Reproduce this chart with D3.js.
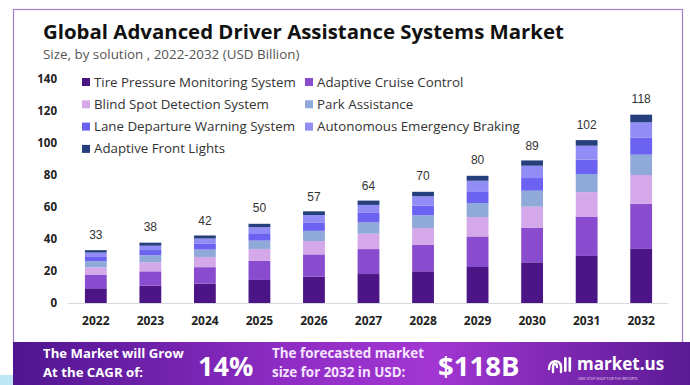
<!DOCTYPE html>
<html>
<head>
<meta charset="utf-8">
<script src="https://cdn.jsdelivr.net/npm/d3@7"></script>
<style>
  body { margin: 0; background: #fff; }
  svg { display: block; font-family: "Open Sans", "Noto Sans", sans-serif; }
</style>
</head>
<body>
<div id="chart"></div>
<script>
// data (USD Billion)
var years = ["2022", "2023", "2024", "2025", "2026", "2027", "2028", "2029", "2030", "2031", "2032"];
var totals = [33, 38, 42, 50, 57, 64, 70, 80, 89, 102, 118];
var series = ["Tire Pressure Monitoring System", "Adaptive Cruise Control", "Blind Spot Detection System",
  "Park Assistance", "Lane Departure Warning System", "Autonomous Emergency Braking", "Adaptive Front Lights"];
var tpms = [9.2, 10.8, 12.1, 14.4, 16.4, 18.1, 19.8, 22.5, 25.4, 29.4, 33.8];
var acc  = [8.3, 9.0, 10.3, 11.9, 14.0, 15.6, 16.7, 19.1, 21.7, 24.6, 28.3];
var bsd  = [4.8, 5.6, 6.4, 7.5, 8.3, 9.6, 10.4, 12.1, 13.1, 15.3, 17.9];
var park = [3.8, 4.4, 4.6, 5.2, 6.4, 7.1, 7.9, 8.8, 10.0, 11.3, 12.7];
var lane = [3.1, 3.3, 3.6, 4.6, 5.3, 5.9, 6.1, 7.3, 7.9, 9.0, 10.8];
var aeb  = [2.3, 2.7, 3.3, 3.8, 4.6, 5.0, 5.8, 6.6, 7.7, 8.7, 9.4];
var afl  = [1.5, 1.9, 1.9, 2.1, 2.3, 2.7, 2.8, 3.1, 3.3, 3.5, 4.8];
var yTicks = [0, 20, 40, 60, 80, 100, 120, 140];
var colors = ["#4b1585", "#8a4ccf", "#d5a8ea", "#8fa9d9", "#6c62f2", "#918cf6", "#253f7c"];

var width = 690, height = 385;
var svg = d3.select("#chart").append("svg")
    .attr("width", width)
    .attr("height", height);

// card
svg.append("rect")
    .attr("x", 13.5).attr("y", 9.5)
    .attr("width", 669).attr("height", 340)
    .attr("fill", "#fff")
    .attr("stroke", "#a57ccb")
    .attr("stroke-width", 1.2);

// title
svg.append("text")
    .attr("x", 43).attr("y", 38.5)
    .attr("font-size", 20.4).attr("font-weight", 700)
    .attr("fill", "#111")
    .text("Global Advanced Driver Assistance Systems Market");
svg.append("text")
    .attr("x", 43).attr("y", 59)
    .attr("font-size", 13.4)
    .attr("fill", "#555")
    .text("Size, by solution , 2022-2032 (USD Billion)");

// scales
var x = d3.scaleBand()
    .domain(years)
    .range([74, 663])
    .paddingInner(0.6)
    .paddingOuter(0.2);

var y = d3.scaleLinear()
    .domain([0, 140])
    .range([303, 79]);

// stack the series
var table = years.map(function(yr, i) {
  return {year: yr, s0: tpms[i], s1: acc[i], s2: bsd[i], s3: park[i], s4: lane[i], s5: aeb[i], s6: afl[i]};
});
var keys = ["s0", "s1", "s2", "s3", "s4", "s5", "s6"];
var stacked = d3.stack().keys(keys)(table);

var chartGroup = svg.append("g");

chartGroup.selectAll("g.layer")
    .data(stacked)
    .enter()
    .append("g")
    .attr("class", "layer")
    .attr("fill", (d, i) => colors[i])
    .selectAll("rect")
    .data(d => d)
    .enter()
    .append("rect")
    .attr("x", d => x(d.data.year))
    .attr("y", d => y(d[1]))
    .attr("width", x.bandwidth())
    .attr("height", d => y(d[0]) - y(d[1]));

// baseline
chartGroup.append("line")
    .attr("x1", 68).attr("x2", 668)
    .attr("y1", y(0) + 0.5).attr("y2", y(0) + 0.5)
    .attr("stroke", "#d8d8e0")
    .attr("stroke-width", 1);

// y axis labels (no line)
var leftAxis = d3.axisLeft(y).tickValues(yTicks).tickSize(0).tickPadding(0);
var yAxisG = chartGroup.append("g")
    .attr("transform", "translate(57,0)")
    .call(leftAxis);
yAxisG.select(".domain").remove();
yAxisG.selectAll("text")
    .attr("font-family", "\"Open Sans\", sans-serif")
    .attr("font-size", 11.5)
    .attr("font-weight", 700)
    .attr("fill", "#222");

// x axis labels
var bottomAxis = d3.axisBottom(x).tickSize(0).tickPadding(13);
var xAxisG = chartGroup.append("g")
    .attr("transform", `translate(0, ${y(0)})`)
    .call(bottomAxis);
xAxisG.select(".domain").remove();
xAxisG.selectAll("text")
    .attr("font-family", "\"Open Sans\", sans-serif")
    .attr("font-size", 12)
    .attr("font-weight", 700)
    .attr("fill", "#222");

// totals above bars
chartGroup.selectAll("text.total")
    .data(totals)
    .enter()
    .append("text")
    .attr("class", "total")
    .attr("x", (d, i) => x(years[i]) + x.bandwidth() / 2)
    .attr("y", d => y(d) - 11)
    .attr("text-anchor", "middle")
    .attr("font-family", "Arial, \"Liberation Sans\", sans-serif")
    .attr("font-size", 12)
    .attr("fill", "#333")
    .text(d => d);

// legend
var legend = svg.append("g");
series.forEach(function(name, i) {
  var col = i % 2, row = Math.floor(i / 2);
  var lx = col === 0 ? 82 : 305;
  var ly = 82 + row * 22.3;
  legend.append("rect")
      .attr("x", lx).attr("y", ly - 4)
      .attr("width", 8).attr("height", 8)
      .attr("fill", colors[i]);
  legend.append("text")
      .attr("x", lx + 12).attr("y", ly + 4.5)
      .attr("font-size", 13.3)
      .attr("fill", "#333")
      .text(name);
});

// bottom banner
var defs = svg.append("defs");
var grad = defs.append("linearGradient").attr("id", "bannerGrad")
    .attr("x1", "0%").attr("x2", "100%").attr("y1", "0%").attr("y2", "0%");
grad.append("stop").attr("offset", "0%").attr("stop-color", "#4f1590");
grad.append("stop").attr("offset", "40%").attr("stop-color", "#8e2cc4");
grad.append("stop").attr("offset", "62%").attr("stop-color", "#a236d2");
grad.append("stop").attr("offset", "100%").attr("stop-color", "#5a1a94");

svg.append("rect")
    .attr("x", 0).attr("y", 375)
    .attr("width", 14).attr("height", 10)
    .attr("fill", "#bfe6f5");
svg.append("rect")
    .attr("x", 13).attr("y", 342)
    .attr("width", 677).attr("height", 43)
    .attr("fill", "url(#bannerGrad)");

var banner = svg.append("g").attr("fill", "#fff").attr("font-weight", 700);
banner.append("text").attr("x", 43).attr("y", 358).attr("font-size", 13.2).text("The Market will Grow");
banner.append("text").attr("x", 43).attr("y", 377).attr("font-size", 13.2).text("At the CAGR of:");
banner.append("text").attr("x", 198).attr("y", 376).attr("font-size", 27).text("14%");
banner.append("text").attr("x", 272).attr("y", 358).attr("font-size", 13.4).attr("fill", "#f6e4ff").text("The forecasted market");
banner.append("text").attr("x", 272).attr("y", 377).attr("font-size", 13.4).attr("fill", "#f6e4ff").text("size for 2032 in USD:");
banner.append("text").attr("x", 438).attr("y", 376).attr("font-size", 27.5).text("$118B");

// logo
var logo = svg.append("g").attr("transform", "translate(547,355)");
logo.append("path")
    .attr("d", "M2,14 C2,4 14,4 14,12 L14,17 M6,17 L6,12 C6,8 10,8 10,12")
    .attr("fill", "none").attr("stroke", "#fff").attr("stroke-width", 2.4).attr("stroke-linecap", "round");
logo.append("rect").attr("x", 17).attr("y", 2).attr("width", 2.6).attr("height", 15).attr("rx", 1.3).attr("fill", "#fff");
logo.append("rect").attr("x", 21.5).attr("y", 2).attr("width", 2.6).attr("height", 15).attr("rx", 1.3).attr("fill", "#fff");
logo.append("text").attr("x", 30).attr("y", 15).attr("font-size", 17).attr("font-weight", 700).attr("fill", "#fff").text("market.us");
logo.append("text").attr("x", 31).attr("y", 25).attr("font-size", 3.6).attr("fill", "#e8d8f5").text("ONE STOP SHOP FOR THE REPORTS");
</script>
</body>
</html>
